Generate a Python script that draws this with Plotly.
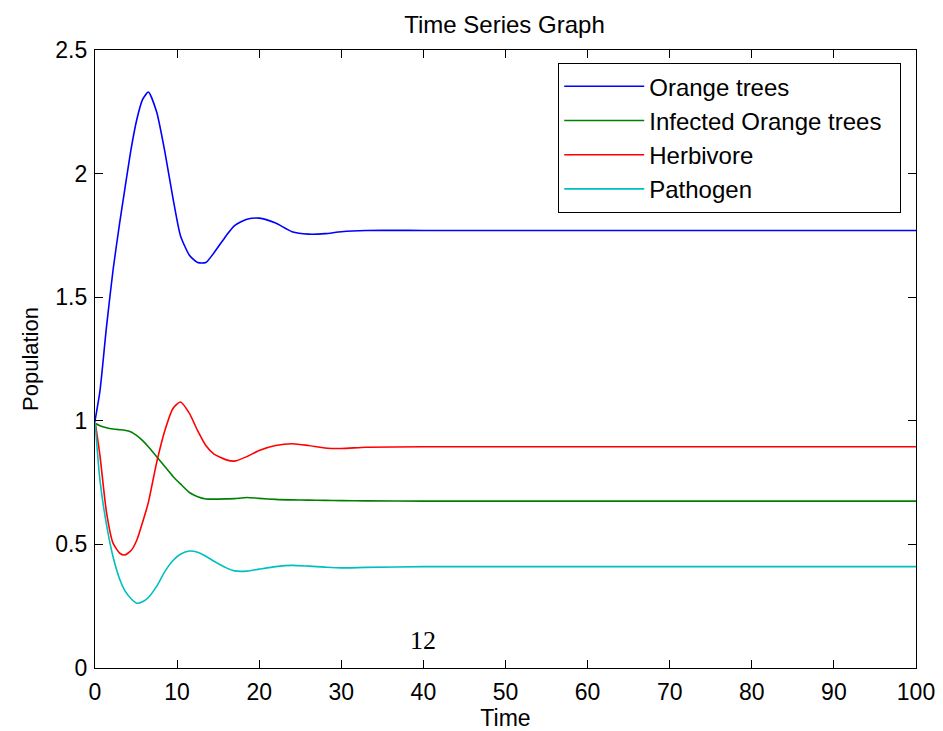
import plotly.graph_objects as go

time = [0, 0.6, 1.4, 2.2, 3.0, 3.6, 4.4, 5.1, 5.8, 6.5, 7.5, 8.5, 9.5, 10.4, 11.5,
        12.5, 13.5, 14.5, 16, 17, 18.5, 20, 22, 24, 26, 28, 30, 33, 40, 50, 60, 70,
        80, 90, 100]

orange_trees = [1.0, 1.12, 1.38, 1.61, 1.80, 1.93, 2.10, 2.22, 2.30, 2.33, 2.25, 2.09,
                1.90, 1.75, 1.67, 1.64, 1.64, 1.68, 1.75, 1.79, 1.815, 1.82, 1.80, 1.765,
                1.755, 1.757, 1.765, 1.77, 1.77, 1.77, 1.77, 1.77, 1.77, 1.77, 1.77]

infected_trees = [0.99, 0.98, 0.972, 0.967, 0.964, 0.962, 0.955, 0.94, 0.92, 0.895, 0.855,
                  0.815, 0.775, 0.745, 0.71, 0.693, 0.684, 0.683, 0.684, 0.685, 0.69,
                  0.686, 0.682, 0.68, 0.679, 0.678, 0.677, 0.676, 0.675, 0.675, 0.675,
                  0.675, 0.675, 0.675, 0.675]

herbivore = [1.0, 0.86, 0.63, 0.505, 0.465, 0.457, 0.475, 0.518, 0.59, 0.67, 0.83, 0.96,
             1.05, 1.076, 1.03, 0.96, 0.90, 0.865, 0.842, 0.837, 0.855, 0.88, 0.90, 0.907,
             0.90, 0.89, 0.888, 0.893, 0.895, 0.895, 0.895, 0.895, 0.895, 0.895, 0.895]

pathogen = [1.0, 0.76, 0.58, 0.45, 0.36, 0.315, 0.28, 0.262, 0.268, 0.285, 0.33, 0.39,
            0.435, 0.46, 0.473, 0.468, 0.452, 0.432, 0.405, 0.393, 0.392, 0.40, 0.41,
            0.415, 0.412, 0.408, 0.405, 0.407, 0.41, 0.41, 0.41, 0.41, 0.41, 0.41, 0.41]

series_names = ["Orange trees", "Infected Orange trees", "Herbivore", "Pathogen"]
series_values = [orange_trees, infected_trees, herbivore, pathogen]
series_colors = ["#0000ff", "#008000", "#ff0000", "#00bfbf"]

x_ticks = [0, 10, 20, 30, 40, 50, 60, 70, 80, 90, 100]
y_ticks = [0, 0.5, 1, 1.5, 2, 2.5]
y_tick_labels = ["0", "0.5", "1", "1.5", "2", "2.5"]

FONT = "Liberation Sans, Arial, sans-serif"

fig = go.Figure()
for name, vals, col in zip(series_names, series_values, series_colors):
    label = name + ("\u00a0\u00a0" if name == "Infected Orange trees" else "")
    fig.add_trace(go.Scatter(x=time, y=vals, name=label, mode="lines",
                             line=dict(color=col, width=1.6, shape="spline", smoothing=0.6)))

axis_common = dict(showline=True, linecolor="black", linewidth=1.2, mirror="ticks",
                   ticks="inside", ticklen=8, tickwidth=1.2, tickcolor="black",
                   showgrid=False, zeroline=False, automargin=False,
                   tickfont=dict(family=FONT, size=23, color="black"))

fig.update_layout(
    width=943, height=731,
    margin=dict(l=95, r=27, t=50, b=63),
    paper_bgcolor="white", plot_bgcolor="white",
    title=dict(text="Time Series Graph", x=0.535, xanchor="center", y=0.966, yanchor="middle",
               font=dict(family=FONT, size=24, color="black")),
    xaxis=dict(range=[0, 100], tickvals=x_ticks, ticklabelstandoff=3,
               title=dict(text="Time", font=dict(family=FONT, size=23, color="black"), standoff=2),
               **axis_common),
    yaxis=dict(range=[0, 2.5], tickvals=y_ticks, ticktext=y_tick_labels, ticklabelstandoff=2,
               title=dict(text="Population", font=dict(family=FONT, size=22, color="black"), standoff=10),
               **axis_common),
    legend=dict(x=0.564, y=0.979, xanchor="left", yanchor="top",
                bordercolor="black", borderwidth=1.2, bgcolor="white",
                font=dict(family=FONT, size=24, color="black"),
                itemwidth=80, tracegroupgap=4),
    showlegend=True,
)

fig.add_annotation(text="12", x=40, y=0.11, xref="x", yref="y", showarrow=False,
                   font=dict(family="Liberation Serif, Times New Roman, serif", size=26, color="black"))

fig.write_html("out.html", config={"displayModeBar": False},
               post_script="document.body.style.margin='0';document.body.style.overflow='hidden';")
